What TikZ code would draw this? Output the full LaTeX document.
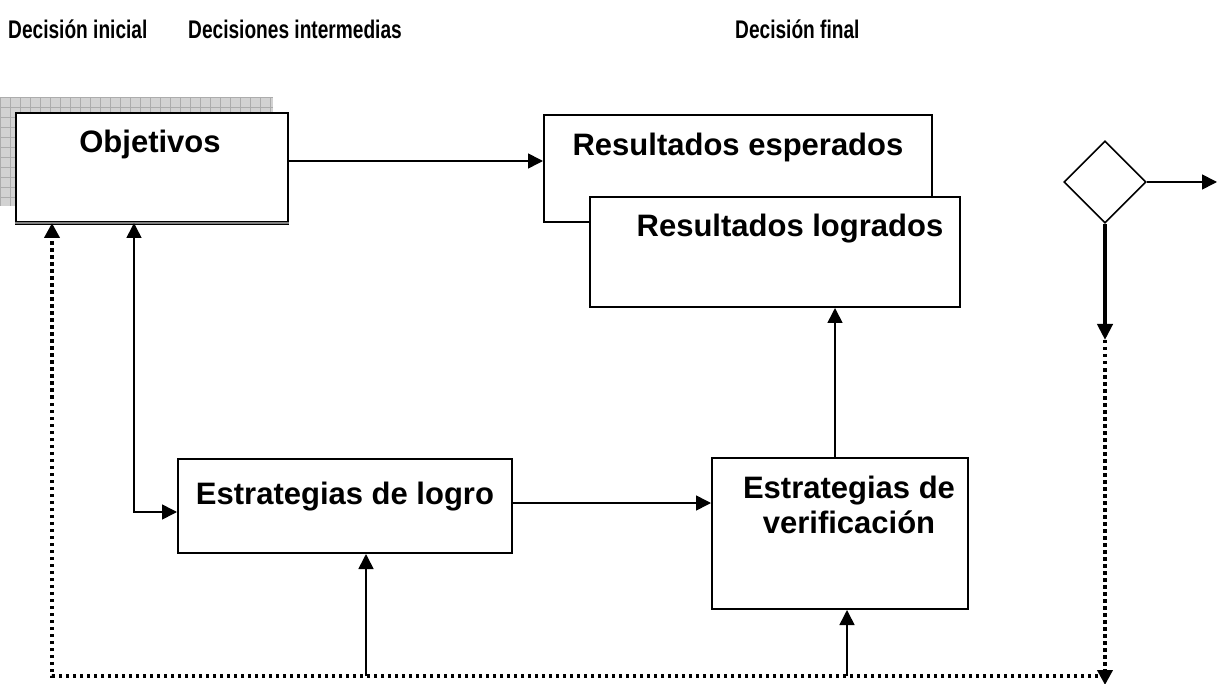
\documentclass[tikz,border=0pt]{standalone}
\usepackage{fontspec}
\setmainfont{Liberation Sans}
\newfontfamily\ttlfont[FakeStretch=0.75]{Liberation Sans}
\usetikzlibrary{arrows.meta,shapes.geometric}
\begin{document}
\begin{tikzpicture}[x=1pt,y=-1pt,
  box/.style={draw, line width=2pt, fill=white, rectangle, inner sep=0pt},
  lbl/.style={font=\fontsize{31}{35}\selectfont\bfseries, anchor=base, align=center, inner sep=0pt},
  ttl/.style={font=\ttlfont\fontsize{25.5}{29}\selectfont\bfseries, anchor=base west, inner sep=0pt},
  arr/.style={line width=1.6pt, -{Triangle[length=15pt,width=15pt]}},
  arrboth/.style={line width=1.6pt, {Triangle[length=15pt,width=15pt]}-{Triangle[length=15pt,width=15pt]}},
  dotl/.style={line width=4pt, dash pattern=on 3.5pt off 3.5pt},
  heavy/.style={line width=4pt}
]
\useasboundingbox (0,0) rectangle (1223,684);

% titles
\node[ttl] (t1) at (8,39) {Decisión inicial};
\node[ttl] (t2) at (188,39) {Decisiones intermedias};
\node[ttl] (t3) at (735,39) {Decisión final};

% shadow of Objetivos
\fill[gray!35] (0,97) rectangle (273,206);
\foreach \x in {0,10,...,270} \draw[gray!65, line width=0.8pt] (\x,97) -- (\x,206);
\foreach \y in {97,107,...,206} \draw[gray!65, line width=0.8pt] (0,\y) -- (273,\y);

% boxes
\node[box, minimum width=272pt, minimum height=109pt] (obj) at (152,167.5) {};
\draw[line width=1.4pt, double=gray, double distance=1.4pt] (obj.south west) -- (obj.south east);
\node[lbl] (objt) at (150,153) {Objetivos};

\node[box, minimum width=388pt, minimum height=107pt] (resesp) at (738,168.5) {};
\node[lbl] (resespt) at (738,156) {Resultados esperados};

\node[box, minimum width=370pt, minimum height=110pt] (reslog) at (775,252) {};
\node[lbl] (reslogt) at (790,237) {Resultados logrados};

\node[box, minimum width=334pt, minimum height=94pt] (estlog) at (345,506) {};
\node[lbl] (estlogt) at (345,504) {Estrategias de logro};

\node[box, minimum width=256pt, minimum height=151pt] (estver) at (840,533.5) {};
\node[lbl] (estvert) at (849,533) {Estrategias de\\verificación};

\node[draw, line width=1.6pt, diamond, shape aspect=1, minimum width=82pt, minimum height=82pt, inner sep=0pt] (dia) at (1105,182) {};

% coordinates
\coordinate (out) at (1217,182);
\coordinate (dm) at (1105,340);
\coordinate (dend) at (1105,685);
\coordinate (dr) at (1105,676);
\coordinate (dl) at (52,676);
\coordinate (f1) at (366,676);
\coordinate (f2) at (847,676);
\coordinate (k) at (134,512);
\coordinate (v1) at (835,0);

% connectors
\draw[arr] ([yshift=6.5pt]obj.east) -- ([yshift=7.5pt]resesp.west);
\draw[arrboth] (obj.south -| k) -- (k) -- (estlog.west |- k);
\draw[arr] (estlog.east |- 0,503) -- (estver.west |- 0,503);
\draw[arr] (estver.north -| v1) -- (reslog.south -| v1);
\draw[arr] (dia.east) -- (out);
\draw[heavy, -{Triangle[length=16pt,width=15pt]}] (dia.south) -- (dm);
\draw[dotl, -{Triangle[length=15pt,width=15pt]}] (dm) -- (dend);
\draw[dotl, -{Triangle[length=15pt,width=15pt]}] (dr) -- (dl) -- (dl |- obj.south);
\draw[arr] (f1) -- (f1 |- estlog.south);
\draw[arr] (f2) -- (f2 |- estver.south);
\end{tikzpicture}
\end{document}
